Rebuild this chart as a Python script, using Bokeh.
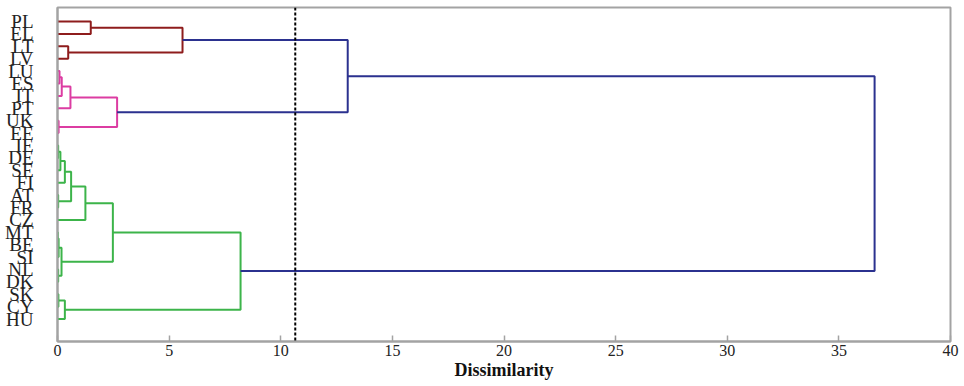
from bokeh.plotting import figure
from bokeh.models import Range1d, FixedTicker, Span, ColumnDataSource
from bokeh.embed import file_html
from bokeh.resources import INLINE

# ---- data -------------------------------------------------------------
countries = ["PL", "EL", "LT", "LV", "LU", "ES", "IT", "PT", "UK", "EE",
             "IE", "DE", "SE", "FI", "AT", "FR", "CZ", "MT", "BE", "SI",
             "NL", "DK", "SK", "CY", "HU"]

merge_names = ["r1", "r2", "r3", "p1", "p2", "p3", "p4", "p5", "t1",
               "g1", "g2", "g3", "g4", "g5", "g6", "g7", "g8", "g9", "g10",
               "g11", "g12", "g13", "g14", "t2"]
merge_left = ["PL", "LT", "r1", "LU", "p1", "p2", "UK", "p3", "r3",
              "IE", "g1", "g2", "AT", "g3", "g5", "MT", "g7", "NL", "g8",
              "g6", "SK", "g12", "g11", "t1"]
merge_right = ["EL", "LV", "r2", "ES", "IT", "PT", "EE", "p4", "p5",
               "DE", "SE", "FI", "FR", "g4", "CZ", "BE", "SI", "DK", "g9",
               "g10", "CY", "HU", "g13", "g14"]
merge_height = [1.49, 0.48, 5.6, 0.09, 0.19, 0.58, 0.05, 2.67, 13.0,
                0.03, 0.13, 0.33, 0.03, 0.61, 1.25, 0.01, 0.05, 0.03, 0.18,
                2.48, 0.04, 0.33, 8.2, 36.6]
merge_group = ["red", "red", "red", "pink", "pink", "pink", "pink", "pink", "blue",
               "green", "green", "green", "green", "green", "green", "green", "green",
               "green", "green", "green", "green", "green", "green", "blue"]

cut_level = 10.65
x_ticks = [0, 5, 10, 15, 20, 25, 30, 35, 40]
x_label = "Dissimilarity"

group_colors = {"red": "#8e1c1c", "pink": "#dc3ca2", "green": "#3cb44a", "blue": "#2b318f"}

# ---- build dendrogram links -------------------------------------------
pos = {c: float(i) for i, c in enumerate(countries)}
hgt = {c: 0.0 for c in countries}
xs, ys, cols = [], [], []
for name, a, b, h, g in zip(merge_names, merge_left, merge_right, merge_height, merge_group):
    xs.append([hgt[a], h, h, hgt[b]])
    ys.append([pos[a], pos[a], pos[b], pos[b]])
    cols.append(group_colors[g])
    pos[name] = (pos[a] + pos[b]) / 2.0
    hgt[name] = h

src = ColumnDataSource(dict(xs=xs, ys=ys, color=cols))

p = figure(width=960, height=384, output_backend="svg", toolbar_location=None,
           x_range=Range1d(0, 40), y_range=Range1d(25.81, -1.13),
           min_border_left=57, min_border_right=10, min_border_top=7, min_border_bottom=43)

p.multi_line(xs="xs", ys="ys", line_color="color", line_width=2, source=src)

p.add_layout(Span(location=cut_level, dimension="height", line_color="black",
                  line_width=2, line_dash="3 2"))

p.xgrid.visible = False
p.ygrid.visible = False
p.background_fill_color = "white"
p.border_fill_color = "white"
p.outline_line_color = "#a3a3a3"
p.outline_line_width = 2

# x axis
p.xaxis.ticker = FixedTicker(ticks=x_ticks)
p.xaxis.axis_line_color = "#a3a3a3"
p.xaxis.axis_line_width = 2
p.xaxis.major_tick_line_color = "#a3a3a3"
p.xaxis.major_tick_line_width = 1.5
p.xaxis.major_tick_in = 6
p.xaxis.major_tick_out = 0
p.xaxis.minor_tick_line_color = None
p.xaxis.major_label_text_font = "Liberation Serif"
p.xaxis.major_label_text_font_size = "16px"
p.xaxis.major_label_text_color = "#222222"
p.xaxis.major_label_standoff = 3
p.xaxis.axis_label = x_label
p.xaxis.axis_label_text_font = "Liberation Serif"
p.xaxis.axis_label_text_font_style = "bold"
p.xaxis.axis_label_text_font_size = "18px"
p.xaxis.axis_label_text_color = "#111111"
p.xaxis.axis_label_standoff = 1

# y axis (country labels)
p.yaxis.ticker = FixedTicker(ticks=list(range(len(countries))))
p.yaxis.major_label_overrides = {i: c for i, c in enumerate(countries)}
p.yaxis.axis_line_color = "#a3a3a3"
p.yaxis.axis_line_width = 2
p.yaxis.major_tick_line_color = None
p.yaxis.minor_tick_line_color = None
p.yaxis.major_label_text_font = "Liberation Serif"
p.yaxis.major_label_text_font_size = "19px"
p.yaxis.major_label_text_color = "#222222"
p.yaxis.major_label_standoff = 18

open("out.html", "w").write(file_html(p, INLINE))
